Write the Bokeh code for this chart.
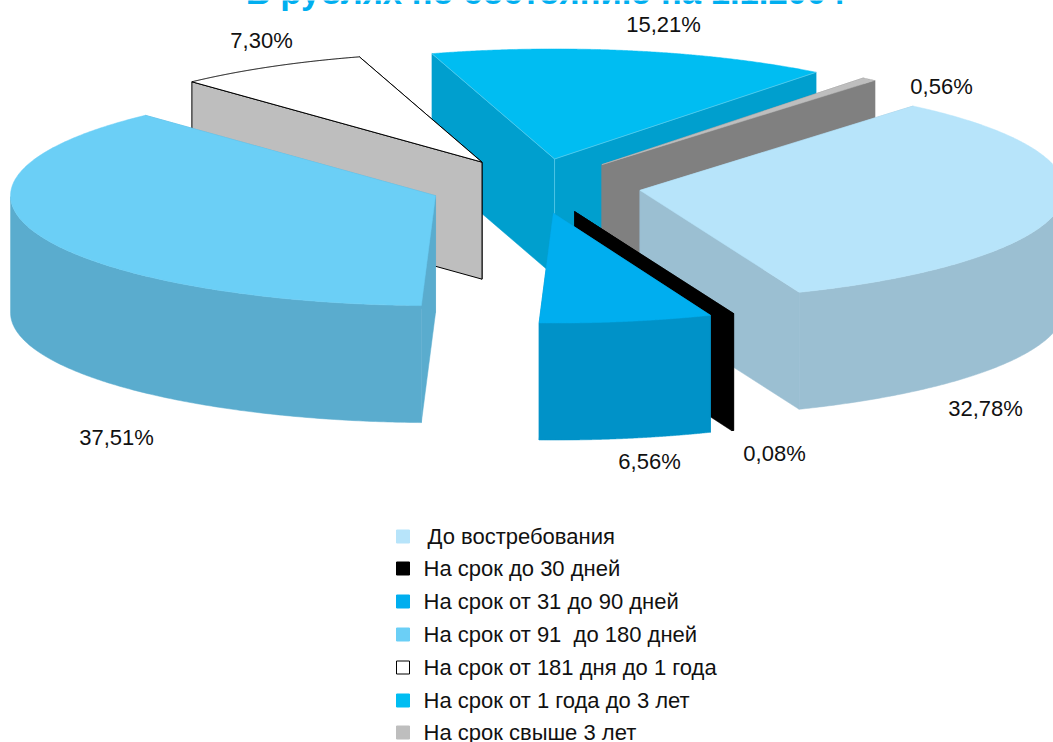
import numpy as np
from bokeh.plotting import figure
from bokeh.models import Range1d
from bokeh.core.properties import value
from bokeh.embed import file_html
from bokeh.resources import INLINE

# ---- data ----
categories = ["До востребования", "На срок до 30 дней", "На срок от 31 до 90 дней",
              "На срок от 91\u00a0 до 180 дней", "На срок от 181 дня до 1 года",
              "На срок от 1 года до 3 лет", "На срок свыше 3 лет"]
shares = [32.78, 0.08, 6.56, 37.51, 7.30, 15.21, 0.56]
title_text = "В рублях по состоянию на 1.1.2004"

# ---- styles ----
top_colors = ["#B7E4FA", "#000000", "#00AEEF", "#6BCFF6", "#FFFFFF", "#00BDF2", "#BEBEBE"]
wall_colors = ["#9BBFD2", "#000000", "#0092C8", "#5AACCE", "#BEBEBE", "#009FCE", "#808080"]
outlines = [None, None, None, None, "#000000", None, None]
legend_colors = top_colors
legend_outline = [None, None, None, None, "#000000", None, None]

# ---- layout ----
CX, CY, A, B, DEPTH, EXPLODE, START = 534.5, 185.5, 425.0, 110.0, 117.0, 0.25, 40.0
PAINT_ORDER = [5, 6, 0, 4, 3, 1, 2]
LABEL_POS = [(985, 408), (774, 453), (649, 461), (116, 437), (261, 40), (663, 24), (941, 86)]
LEGEND_Y = [536, 568, 601, 634, 667, 700, 732]
LEGEND_TEXT_X = [427, 423, 423, 423, 423, 423, 423]

p = figure(width=1053, height=742, output_backend="svg", toolbar_location=None,
           x_range=Range1d(0, 1053), y_range=Range1d(742, 0),
           x_axis_location=None, y_axis_location=None,
           min_border=0, outline_line_color=None)
p.xgrid.visible = False
p.ygrid.visible = False


def rim(ox, oy, deg):
    t = np.radians(deg)
    return ox + A * np.sin(t), oy - B * np.cos(t)


edges = START + np.concatenate([[0], np.cumsum(shares)]) * 3.6


def poly(xs, ys, fill, line):
    p.patch(list(xs), list(ys), fill_color=fill,
            line_color=line if line else fill, line_width=1 if line else 0.5)


for i in PAINT_ORDER:
    s, e = edges[i], edges[i + 1]
    mid = np.radians((s + e) / 2)
    ox = CX + EXPLODE * A * np.sin(mid)
    oy = CY - EXPLODE * B * np.cos(mid)
    wall, top, ol = wall_colors[i], top_colors[i], outlines[i]

    # radial walls, the one further back first
    ends = sorted([s, e], key=lambda d: rim(ox, oy, d)[1])
    for d in ends:
        rx, ry = rim(ox, oy, d)
        poly([ox, rx, rx, ox], [oy, ry, ry + DEPTH, oy + DEPTH], wall, ol)

    # outer wall: only the front part of the rim
    th = np.linspace(s, e, 240)
    front = np.cos(np.radians(th)) < 0
    if front.any():
        rx, ry = rim(ox, oy, th[front])
        poly(np.r_[rx, rx[::-1]], np.r_[ry, ry[::-1] + DEPTH], wall, ol)

    # top face
    rx, ry = rim(ox, oy, th)
    poly(np.r_[ox, rx], np.r_[oy, ry], top, ol)

    if i == 5:  # thin highlight on the edges of this slice
        x1, y1 = rim(ox, oy, s)
        x2, y2 = rim(ox, oy, e)
        p.line([x1, ox, x2], [y1, oy, y2], line_color="#5CCBEA", line_width=0.8)
        p.line([ox, ox], [oy, oy + DEPTH], line_color="#5CCBEA", line_width=0.8)

FONT = value("Liberation Sans")

p.text([545], [-8.5], text=[title_text], text_font=FONT, text_font_size="34.6px",
       text_font_style="bold", text_color="#00AEEF", text_align="center",
       text_baseline="alphabetic")

labels = [f"{v:.2f}%".replace(".", ",") for v in shares]
p.text([q[0] for q in LABEL_POS], [q[1] for q in LABEL_POS], text=labels, text_font=FONT,
       text_font_size="22px", text_color="#111111", text_align="center", text_baseline="middle")

p.rect([402.5] * 7, LEGEND_Y, width=13, height=13,
       fill_color=legend_colors,
       line_color=[c if c else f for c, f in zip(legend_outline, legend_colors)], line_width=1)
p.text(LEGEND_TEXT_X, LEGEND_Y, text=categories, text_font=FONT, text_font_size="22px",
       text_color="#111111", text_align="left", text_baseline="middle")

open("out.html", "w").write(file_html(p, INLINE))
